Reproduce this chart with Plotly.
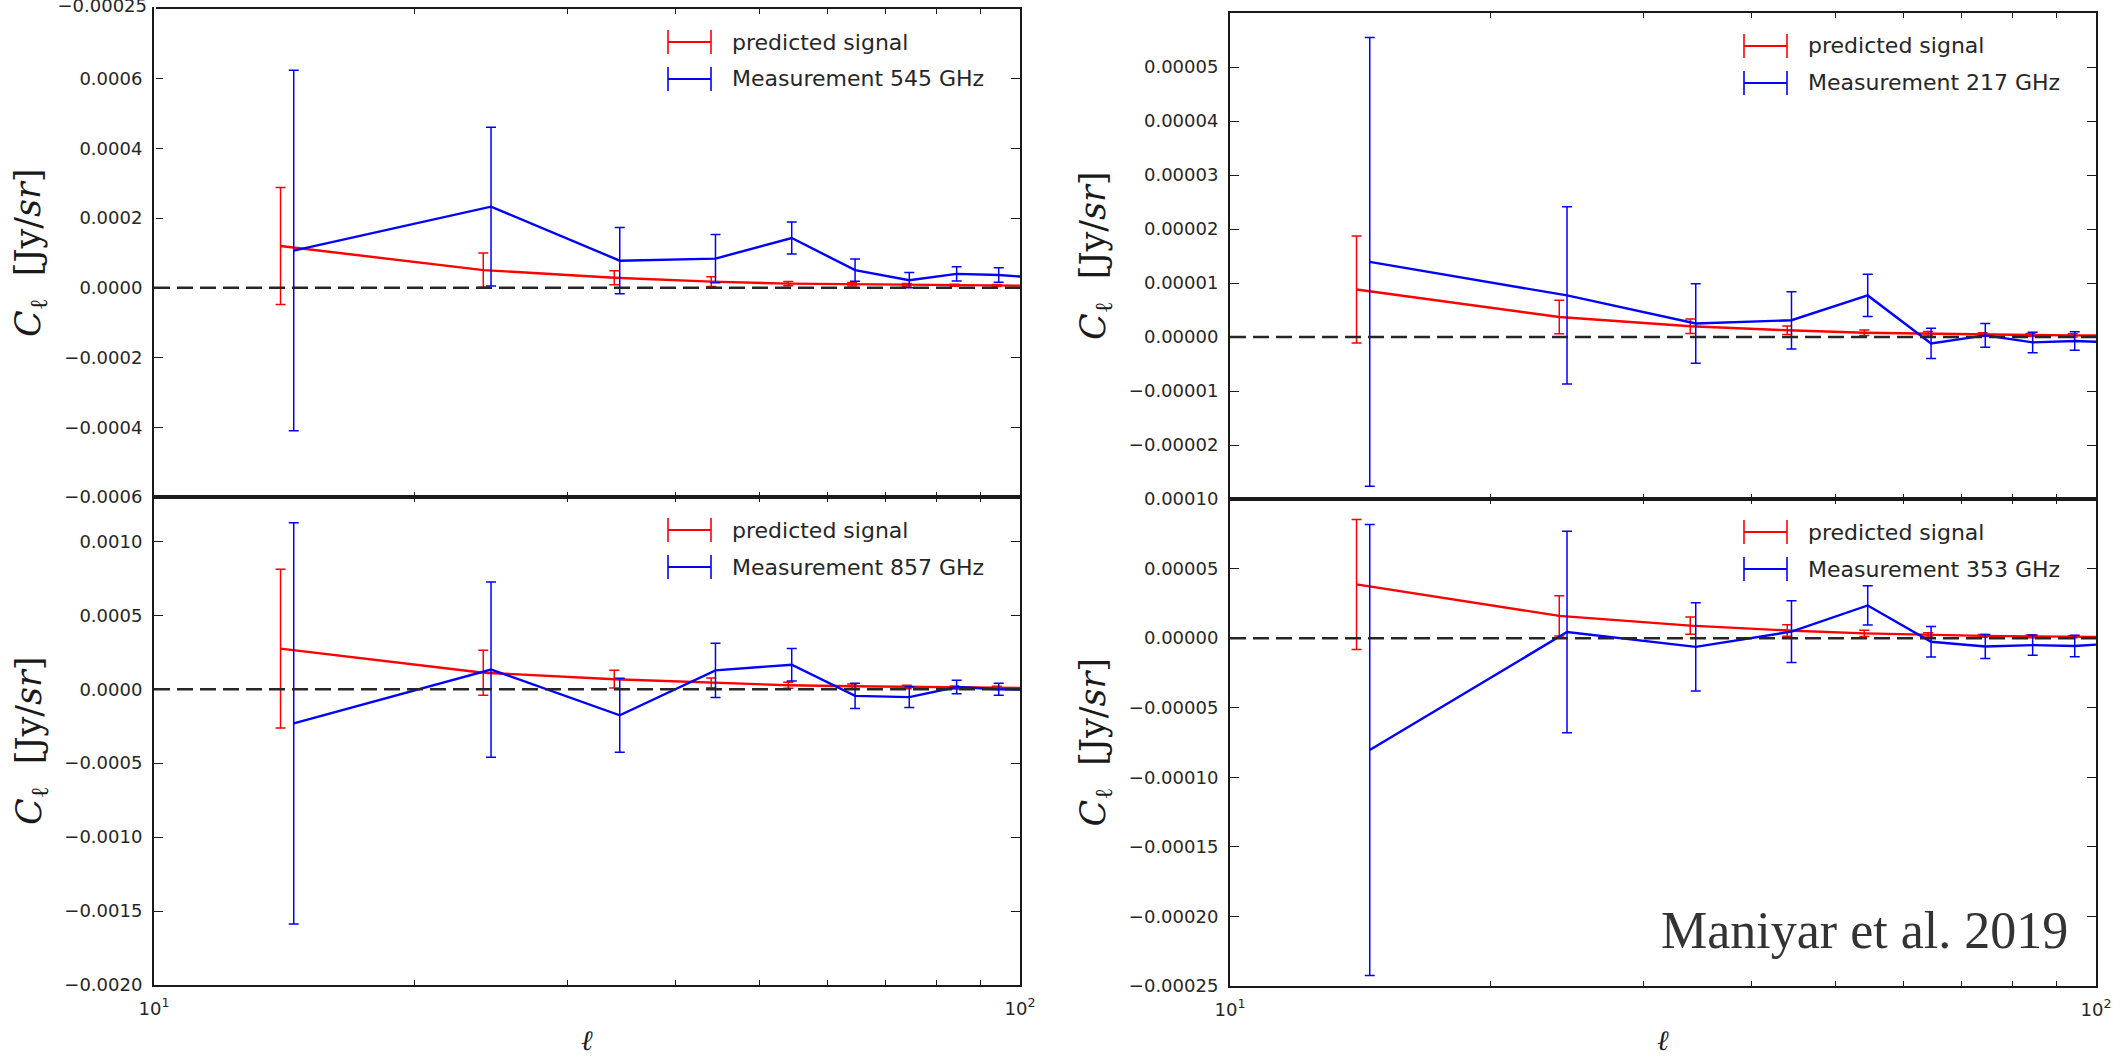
import plotly.graph_objects as go

W, H = 2127, 1059

# multipole bin centres; the measured points are drawn slightly offset
ell_pred = [14, 24, 34, 44, 54, 64, 74, 84, 94, 104]
ell_meas = [14.5, 24.5, 34.5, 44.5, 54.5, 64.5, 74.5, 84.5, 94.5, 104.5]

# 545 GHz
pred_545 = [1.20e-4, 0.51e-4, 0.29e-4, 0.18e-4, 0.12e-4, 0.105e-4, 0.086e-4, 0.076e-4, 0.067e-4, 0.060e-4]
pred_545_err = [1.68e-4, 0.49e-4, 0.20e-4, 0.14e-4, 0.06e-4, 0.05e-4, 0.04e-4, 0.03e-4, 0.03e-4, 0.03e-4]
meas_545 = [1.07e-4, 2.33e-4, 0.78e-4, 0.84e-4, 1.43e-4, 0.51e-4, 0.22e-4, 0.40e-4, 0.37e-4, 0.29e-4]
meas_545_err = [5.17e-4, 2.28e-4, 0.95e-4, 0.69e-4, 0.46e-4, 0.32e-4, 0.22e-4, 0.205e-4, 0.21e-4, 0.20e-4]

# 857 GHz
pred_857 = [2.75e-4, 1.12e-4, 0.68e-4, 0.43e-4, 0.27e-4, 0.20e-4, 0.15e-4, 0.12e-4, 0.10e-4, 0.08e-4]
pred_857_err = [5.37e-4, 1.52e-4, 0.60e-4, 0.33e-4, 0.20e-4, 0.15e-4, 0.12e-4, 0.10e-4, 0.10e-4, 0.08e-4]
meas_857 = [-2.31e-4, 1.33e-4, -1.76e-4, 1.28e-4, 1.66e-4, -0.45e-4, -0.53e-4, 0.15e-4, 0.0, -0.05e-4]
meas_857_err = [13.57e-4, 5.93e-4, 2.50e-4, 1.83e-4, 1.10e-4, 0.85e-4, 0.70e-4, 0.45e-4, 0.41e-4, 0.40e-4]

# 217 GHz
pred_217 = [0.88e-5, 0.37e-5, 0.20e-5, 0.125e-5, 0.08e-5, 0.06e-5, 0.045e-5, 0.037e-5, 0.030e-5, 0.025e-5]
pred_217_err = [0.99e-5, 0.31e-5, 0.135e-5, 0.08e-5, 0.05e-5, 0.04e-5, 0.035e-5, 0.03e-5, 0.03e-5, 0.03e-5]
meas_217 = [1.39e-5, 0.77e-5, 0.25e-5, 0.31e-5, 0.77e-5, -0.12e-5, 0.03e-5, -0.10e-5, -0.075e-5, -0.10e-5]
meas_217_err = [4.155e-5, 1.642e-5, 0.735e-5, 0.53e-5, 0.39e-5, 0.28e-5, 0.22e-5, 0.19e-5, 0.17e-5, 0.17e-5]

# 353 GHz
pred_353 = [3.86e-5, 1.60e-5, 0.90e-5, 0.55e-5, 0.34e-5, 0.23e-5, 0.16e-5, 0.13e-5, 0.10e-5, 0.08e-5]
pred_353_err = [4.675e-5, 1.44e-5, 0.615e-5, 0.42e-5, 0.23e-5, 0.15e-5, 0.10e-5, 0.10e-5, 0.08e-5, 0.08e-5]
meas_353 = [-8.04e-5, 0.44e-5, -0.63e-5, 0.47e-5, 2.35e-5, -0.26e-5, -0.60e-5, -0.50e-5, -0.565e-5, -0.39e-5]
meas_353_err = [16.2e-5, 7.235e-5, 3.17e-5, 2.22e-5, 1.41e-5, 1.095e-5, 0.87e-5, 0.73e-5, 0.765e-5, 0.70e-5]

# y ticks per panel
yticks_545 = [-0.0006, -0.0004, -0.0002, 0.0, 0.0002, 0.0004, 0.0006]
yticks_857 = [-0.0020, -0.0015, -0.0010, -0.0005, 0.0, 0.0005, 0.0010]
yticks_217 = [-0.00002, -0.00001, 0.0, 0.00001, 0.00002, 0.00003, 0.00004, 0.00005]
yticks_353 = [-0.00025, -0.00020, -0.00015, -0.00010, -0.00005, 0.0, 0.00005, 0.00010]

xticks = [10, 20, 30, 40, 50, 60, 70, 80, 90, 100]
xtick_text = ["10<sup>1</sup>", "", "", "", "", "", "", "", "", "10<sup>2</sup>"]

# lone tick label sitting on the top edge of the page, above the 545 GHz panel
edge_label = "\u22120.00025"

RED = "#ff0000"
BLUE = "#0000ff"
INK = "#1a1a1a"
TICK_FONT = dict(family="DejaVu Sans", size=18, color="#262626")


def fmt(v, nd):
    s = f"{v:.{nd}f}"
    return s.replace("-", "\u2212")


# pixel boxes of the four panels: (left, right, top, bottom)
panels = [
    dict(name="545 GHz", box=(154, 1020, 9, 497), yr=[-0.0006, 0.0008], yt=yticks_545, nd=4,
         pred=pred_545, perr=pred_545_err, meas=meas_545, merr=meas_545_err, bottom=False),
    dict(name="857 GHz", box=(154, 1020, 497, 985), yr=[-0.0020, 0.0013], yt=yticks_857, nd=4,
         pred=pred_857, perr=pred_857_err, meas=meas_857, merr=meas_857_err, bottom=True),
    dict(name="217 GHz", box=(1230, 2096, 13, 499), yr=[-0.00003, 0.00006], yt=yticks_217, nd=5,
         pred=pred_217, perr=pred_217_err, meas=meas_217, merr=meas_217_err, bottom=False),
    dict(name="353 GHz", box=(1230, 2096, 499, 986), yr=[-0.00025, 0.00010], yt=yticks_353, nd=5,
         pred=pred_353, perr=pred_353_err, meas=meas_353, merr=meas_353_err, bottom=True),
]


def px_x(x):
    return x / W


def px_y(y):
    return 1 - y / H


fig = go.Figure()
shapes = []
annotations = []
layout = {}

for i, p in enumerate(panels, start=1):
    sfx = "" if i == 1 else str(i)
    xa, ya = "x" + sfx, "y" + sfx
    l, r, t, b = p["box"]

    fig.add_trace(go.Scatter(
        x=ell_pred, y=p["pred"], mode="lines", xaxis=xa, yaxis=ya, showlegend=False,
        line=dict(color=RED, width=2.4),
        error_y=dict(type="data", array=p["perr"], visible=True, color=RED, thickness=1.5, width=5),
    ))
    fig.add_trace(go.Scatter(
        x=ell_meas, y=p["meas"], mode="lines", xaxis=xa, yaxis=ya, showlegend=False,
        line=dict(color=BLUE, width=2.4),
        error_y=dict(type="data", array=p["merr"], visible=True, color=BLUE, thickness=1.5, width=5),
    ))

    layout["xaxis" + sfx] = dict(
        type="log", range=[1, 2], domain=[px_x(l), px_x(r)], anchor=ya,
        tickvals=xticks, ticktext=xtick_text, showticklabels=p["bottom"],
        ticks="inside", ticklen=5, tickwidth=1.3, tickcolor=INK,
        showline=True, linecolor=INK, linewidth=2, mirror="allticks",
        showgrid=False, zeroline=False, tickfont=TICK_FONT, ticklabelstandoff=6,
        automargin=False,
    )
    layout["yaxis" + sfx] = dict(
        range=p["yr"], domain=[px_y(b), px_y(t)], anchor=xa,
        tickvals=p["yt"], ticktext=[fmt(v, p["nd"]) for v in p["yt"]],
        ticks="inside", ticklen=9, tickwidth=1.3, tickcolor=INK,
        showline=True, linecolor=INK, linewidth=2, mirror="allticks",
        showgrid=False, zeroline=False, tickfont=TICK_FONT, ticklabelstandoff=6,
        automargin=False,
    )

    # dashed zero level
    shapes.append(dict(type="line", xref=xa + " domain", yref=ya, x0=0, x1=1, y0=0, y1=0,
                       line=dict(color="#262626", width=2.5, dash="16px,7px")))

    # error-bar style legend entries
    for row, (col, label) in enumerate([(RED, "predicted signal"), (BLUE, "Measurement " + p["name"])]):
        yc = t + 33 + row * 37
        x0, x1 = r - 352, r - 309
        shapes.append(dict(type="line", xref="paper", yref="paper", x0=px_x(x0), x1=px_x(x1),
                           y0=px_y(yc), y1=px_y(yc), line=dict(color=col, width=2.2)))
        for xc in (x0, x1):
            shapes.append(dict(type="line", xref="paper", yref="paper", x0=px_x(xc), x1=px_x(xc),
                               y0=px_y(yc - 12), y1=px_y(yc + 12), line=dict(color=col, width=1.6)))
        annotations.append(dict(xref="paper", yref="paper", x=px_x(r - 290), y=px_y(yc),
                                xanchor="left", yanchor="middle", showarrow=False, text=label,
                                font=dict(family="DejaVu Sans", size=22, color="#262626")))

    # y axis title
    annotations.append(dict(xref="paper", yref="paper", x=px_x(31 if l < 600 else 1095),
                            y=px_y((t + b) / 2), xanchor="center", yanchor="middle",
                            showarrow=False, textangle=-90,
                            text="<i>C</i><sub>\u2113</sub>  [Jy/<i>sr</i>]",
                            font=dict(family="DejaVu Serif", size=35, color="#1a1a1a")))
    if p["bottom"]:
        annotations.append(dict(xref="paper", yref="paper", x=px_x((l + r) / 2), y=px_y(1040),
                                xanchor="center", yanchor="middle", showarrow=False,
                                text="<i>\u2113</i>",
                                font=dict(family="DejaVu Serif", size=28, color="#1a1a1a")))

# helper axis whose only tick label straddles the top edge of the page;
# its range counts pixels downward from the top so the label sits at 6 px
fig.add_trace(go.Scatter(x=[None], y=[None], xaxis="x5", yaxis="y5", showlegend=False,
                         hoverinfo="skip"))
layout["xaxis5"] = dict(domain=[px_x(154), px_x(156)], anchor="y5", visible=False, range=[0, 1],
                        automargin=False)
layout["yaxis5"] = dict(domain=[px_y(300), 1.0], anchor="x5", range=[300, 0],
                        tickvals=[6], ticktext=[edge_label], ticks="", showline=False,
                        showgrid=False, zeroline=False, tickfont=TICK_FONT,
                        ticklabelstandoff=6, ticklabeloverflow="allow", automargin=False)

# citation
annotations.append(dict(xref="paper", yref="paper", x=px_x(2070), y=px_y(930),
                        xanchor="right", yanchor="middle", showarrow=False,
                        text="Maniyar et al. 2019",
                        font=dict(family="Liberation Serif", size=52, color="#333333")))

fig.update_layout(
    width=W, height=H, autosize=False,
    margin=dict(l=0, r=0, t=0, b=0, pad=0, autoexpand=False),
    paper_bgcolor="white", plot_bgcolor="white",
    showlegend=False, shapes=shapes, annotations=annotations,
    **layout,
)

# the figure fills the page edge to edge
fig.write_html(
    "out.html",
    post_script="document.body.style.margin='0';document.body.style.overflow='hidden';",
)
